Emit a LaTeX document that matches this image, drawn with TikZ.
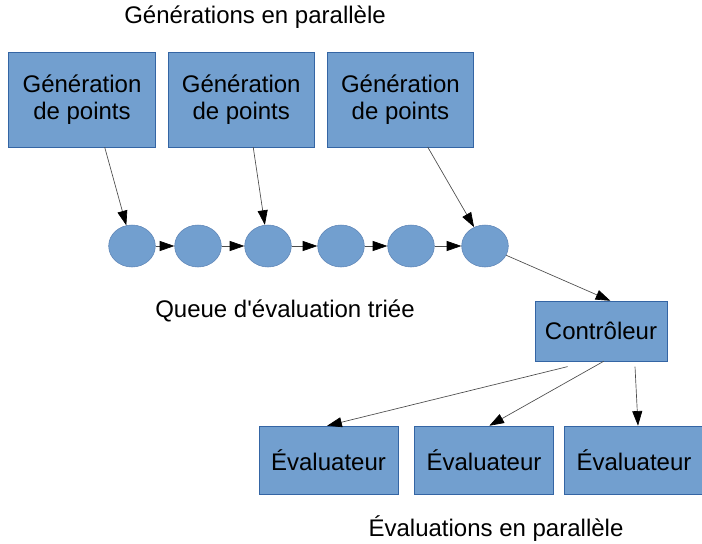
\documentclass[tikz,border=0pt]{standalone}
\usepackage{fontspec}
\setmainfont{Liberation Sans}
\usepackage{xcolor}
\usetikzlibrary{positioning,arrows.meta,shapes.geometric}

\definecolor{boxfill}{HTML}{729FCF}
\definecolor{boxline}{HTML}{3465A4}

\begin{document}
\begin{tikzpicture}[
  x=0.75pt, y=-0.75pt, node distance=9pt,
  font=\fontsize{18}{20.5}\selectfont,
  gen/.style={draw=boxline, fill=boxfill, minimum width=110pt, minimum height=71pt, align=center, inner sep=0pt},
  ctl/.style={draw=boxline, fill=boxfill, minimum width=99pt, minimum height=45pt, inner sep=0pt},
  evl/.style={draw=boxline, fill=boxfill, minimum width=104pt, minimum height=51pt, inner sep=0pt},
  qel/.style={ellipse, draw=boxline!80, fill=boxfill, minimum width=35pt, minimum height=31.5pt, inner sep=0pt},
  arr/.style={draw=black!70, line width=0.5pt, -{Triangle[length=11pt,width=7.5pt,color=black]}}]
\useasboundingbox (0,0) rectangle (702,543);
% generateurs
\node[gen] (g1) at (82,99.5) {Génération\\de points};
\node[gen, right=of g1] (g2) {Génération\\de points};
\node[gen, right=of g2] (g3) {Génération\\de points};
\node (tgen) at (255,17) {Générations en parallèle};
% queue
\foreach \i/\x in {1/132,2/198,3/268,4/341,5/411,6/485}
  \node[qel] (q\i) at (\x,246) {};
\node (tqueue) at (285,311) {Queue d\textquotesingle évaluation triée};
% controleur et evaluateurs
\node[ctl] (ctrl) at (601,331) {Contrôleur};
\node[evl] (e1) at (328.5,460) {Évaluateur};
\node[evl] (e2) at (484,460) {Évaluateur};
\node[evl] (e3) at (634,460) {Évaluateur};
\node (teval) at (496,529) {Évaluations en parallèle};
% fleches
\draw[arr] ([xshift=17pt]g1.south) -- (q1);
\draw[arr] ([xshift=9pt]g2.south) -- (q3);
\draw[arr] ([xshift=20.5pt]g3.south) -- (q6);
\foreach \a/\b in {1/2,2/3,3/4,4/5,5/6}
  \draw[arr] (q\a) -- (q\b);
\draw[arr] (q6) -- ([xshift=7pt]ctrl.north);
\draw[arr] ([shift={(-25pt,-4pt)}]ctrl.south) -- ([xshift=-1pt]e1.north);
\draw[arr] ([xshift=2pt]ctrl.south) -- ([xshift=4pt]e2.north);
\draw[arr] ([shift={(25.5pt,-4pt)}]ctrl.south) -- ([xshift=3pt]e3.north);
\end{tikzpicture}
\end{document}
